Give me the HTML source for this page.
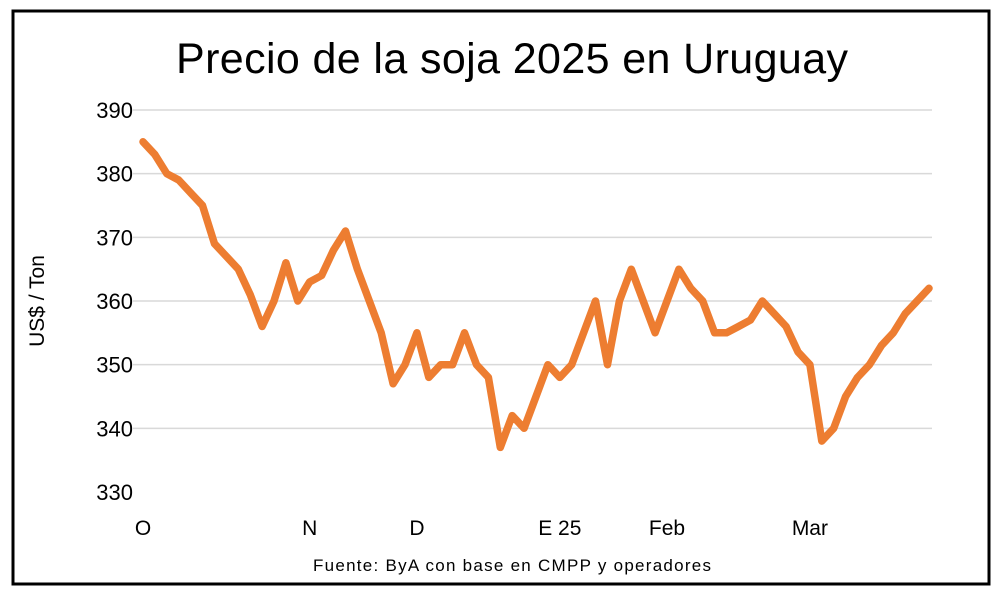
<!DOCTYPE html>
<html><head><meta charset="utf-8"><style>
body{margin:0;background:#fff;}
svg text{font-family:"Liberation Sans",sans-serif;fill:#000;}
</style></head><body>
<svg width="1000" height="599">
<rect x="13" y="11" width="976" height="573" fill="#fff" stroke="#000" stroke-width="3"/>
<text x="512" y="73" font-size="43" text-anchor="middle" textLength="672">Precio de la soja 2025 en Uruguay</text>
<g id="grid"></g>
<g id="ylabels"></g>
<g id="xlabels"></g>
<text transform="translate(44,301) rotate(-90)" font-size="21" text-anchor="middle">US$ / Ton</text>
<path id="line" fill="none" stroke="#ED7D31" stroke-width="7.5" stroke-linejoin="round" stroke-linecap="round"/>
<text x="512" y="571" font-size="17" text-anchor="middle" textLength="398">Fuente: ByA con base en CMPP y operadores</text>
</svg>
<script>
const prices=[385,383,380,379,377,375,369,367,365,361,356,360,366,360,363,364,368,371,365,360,355,347,350,355,348,350,350,355,350,348,337,342,340,345,350,348,350,355,360,350,360,365,360,355,360,365,362,360,355,355,356,357,360,358,356,352,350,338,340,345,348,350,353,355,358,360,362];
const yTicks=[330,340,350,360,370,380,390];
const xLabels=["O","N","D","E 25","Feb","Mar"];
const xLabelIdx=[0,14,23,35,44,56];
const X0=143,X1=929,Y0=492,Y1=110,VMIN=330,VMAX=390;
const xs=i=>X0+(X1-X0)*i/(prices.length-1);
const ys=v=>Y0-(v-VMIN)/(VMAX-VMIN)*(Y0-Y1);
const NS="http://www.w3.org/2000/svg";
const grid=document.getElementById('grid'),yl=document.getElementById('ylabels'),xl=document.getElementById('xlabels');
yTicks.forEach(t=>{
  const l=document.createElementNS(NS,'line');
  l.setAttribute('x1',133);l.setAttribute('x2',932);l.setAttribute('y1',ys(t));l.setAttribute('y2',ys(t));
  l.setAttribute('stroke',t===VMIN?'#fff':'#d9d9d9');l.setAttribute('stroke-width',1.5);
  
  
  grid.appendChild(l);
  const tx=document.createElementNS(NS,'text');
  tx.setAttribute('x',133);tx.setAttribute('y',ys(t)+8);tx.setAttribute('font-size',22);tx.setAttribute('text-anchor','end');
  tx.textContent=t;
  
  
  yl.appendChild(tx);
});
xLabels.forEach((s,k)=>{
  const tx=document.createElementNS(NS,'text');
  tx.setAttribute('x',xs(xLabelIdx[k]));tx.setAttribute('y',535);tx.setAttribute('font-size',21);tx.setAttribute('text-anchor','middle');
  tx.textContent=s;
  
  
  xl.appendChild(tx);
});
document.getElementById('line').setAttribute('d',prices.map((v,i)=>(i?'L':'M')+xs(i).toFixed(1)+' '+ys(v).toFixed(1)).join(' '));
</script>
</body></html>
